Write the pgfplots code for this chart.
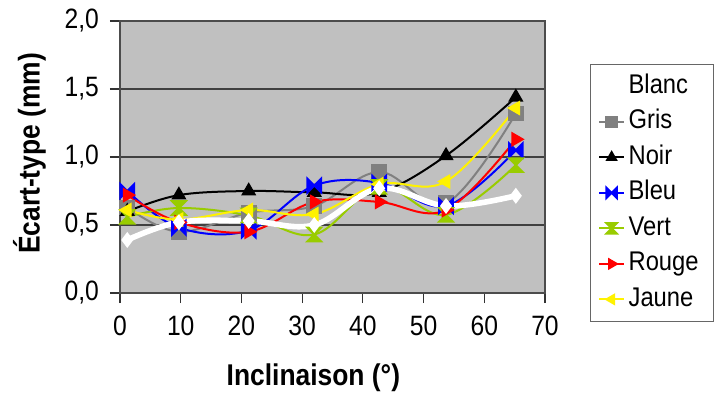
\documentclass[border=0pt]{standalone}
\usepackage{fontspec}
\setmainfont[FakeStretch=0.88]{Liberation Sans}
\usepackage{pgfplots}
\pgfplotsset{compat=1.18}
\definecolor{plotbg}{RGB}{192,192,192}
\definecolor{vert}{RGB}{153,204,0}
\definecolor{gris}{RGB}{128,128,128}
\pgfdeclareplotmark{bowtie}{%
  \pgfpathmoveto{\pgfqpoint{-\pgfplotmarksize}{\pgfplotmarksize}}%
  \pgfpathlineto{\pgfqpoint{\pgfplotmarksize}{-\pgfplotmarksize}}%
  \pgfpathlineto{\pgfqpoint{\pgfplotmarksize}{\pgfplotmarksize}}%
  \pgfpathlineto{\pgfqpoint{-\pgfplotmarksize}{-\pgfplotmarksize}}%
  \pgfpathclose\pgfusepathqfillstroke}
\pgfdeclareplotmark{hourglass}{%
  \pgfpathmoveto{\pgfqpoint{-\pgfplotmarksize}{\pgfplotmarksize}}%
  \pgfpathlineto{\pgfqpoint{\pgfplotmarksize}{\pgfplotmarksize}}%
  \pgfpathlineto{\pgfqpoint{-\pgfplotmarksize}{-\pgfplotmarksize}}%
  \pgfpathlineto{\pgfqpoint{\pgfplotmarksize}{-\pgfplotmarksize}}%
  \pgfpathclose\pgfusepathqfillstroke}
\pgfplotstableread{
x    blanc gris noir bleu vert rouge jaune
1.2  0.39  0.63 0.60 0.75 0.56 0.72 0.61
9.7  0.52  0.45 0.72 0.48 0.625 0.52 0.54
21.2 0.53  0.59 0.75 0.46 0.57 0.45 0.61
32   0.50  0.64 0.74 0.79 0.43 0.67 0.58
42.7 0.77  0.89 0.74 0.81 0.78 0.67 0.80
53.7 0.64  0.66 1.01 0.64 0.575 0.61 0.82
65.2 0.715 1.32 1.44 1.05 0.94 1.13 1.36
}\data
\begin{document}
\begin{tikzpicture}
\path[use as bounding box] (0,0) rectangle (359pt,196pt);
\begin{axis}[
  at={(60pt,49.5pt)}, anchor=south west,
  scale only axis, width=212.5pt, height=136pt,
  xmin=0, xmax=70, ymin=0, ymax=2,
  xtick={0,10,...,70}, ytick={0,0.5,1,1.5,2},
  axis background/.style={fill=plotbg},
  axis line style={draw=black!70, line width=0.8pt},
  ymajorgrids, grid style={black!75, line width=0.7pt},
  tick align=outside, major tick length=5pt,
  tick style={black!80, line width=0.6pt},
  tick pos=left,
  y tick label style={/pgf/number format/fixed, /pgf/number format/fixed zerofill, /pgf/number format/precision=1, /pgf/number format/use comma},
  /pgf/number format/assume math mode=true,
  ticklabel style={font=\fontsize{14}{16}\selectfont},
  xticklabel style={yshift=-3pt},
  yticklabel style={xshift=-2pt},
  xlabel={Inclinaison (°)}, ylabel={Écart-type (mm)},
  label style={font=\fontsize{15}{17}\selectfont\bfseries},
  xlabel style={at={(axis description cs:0.455,-0.3125)}, anchor=center},
  ylabel style={at={(axis description cs:-0.213,0.513)}, anchor=center},
  legend style={at={(axis description cs:1.106,0.842)}, anchor=north west,
    draw=black!60, line width=0.6pt, fill=white,
    font=\fontsize{13.5}{16}\selectfont,
    inner xsep=3pt, inner ysep=4.4pt, row sep=4.75pt, column sep=1pt,
    nodes={inner sep=0pt, text height=10pt, text depth=3pt, text width=39.5pt}},
  legend cell align=left,
  legend image code/.code={\draw[mark repeat=2, mark phase=2, mark size=2.6pt] plot coordinates {(0pt,0pt) (6.25pt,0pt) (12.5pt,0pt)};},
  every axis plot/.append style={smooth, tension=0.6, line width=1pt, mark size=3.4pt},
]
\addlegendimage{white, line width=2.5pt, mark=diamond*, mark options={fill=white}}
\addlegendentry{Blanc}
\addplot[gris, mark=square*, mark options={fill=gris}] table[x=x, y=gris] {\data};
\addlegendentry{Gris}
\addplot[black, mark=triangle*, mark options={fill=black}] table[x=x, y=noir] {\data};
\addlegendentry{Noir}
\addplot[blue, mark=bowtie, mark options={fill=blue}] table[x=x, y=bleu] {\data};
\addlegendentry{Bleu}
\addplot[vert, mark=hourglass, mark options={fill=vert}] table[x=x, y=vert] {\data};
\addlegendentry{Vert}
\addplot[red, mark=triangle*, mark options={fill=red, rotate=-90}] table[x=x, y=rouge] {\data};
\addlegendentry{Rouge}
\addplot[yellow, mark=triangle*, mark options={fill=yellow, rotate=90}] table[x=x, y=jaune] {\data};
\addlegendentry{Jaune}
\addplot[white, line width=2.8pt, mark=diamond*, mark size=3.6pt, mark options={fill=white, line width=0.5pt}, forget plot] table[x=x, y=blanc] {\data};
\end{axis}
\end{tikzpicture}
\end{document}
